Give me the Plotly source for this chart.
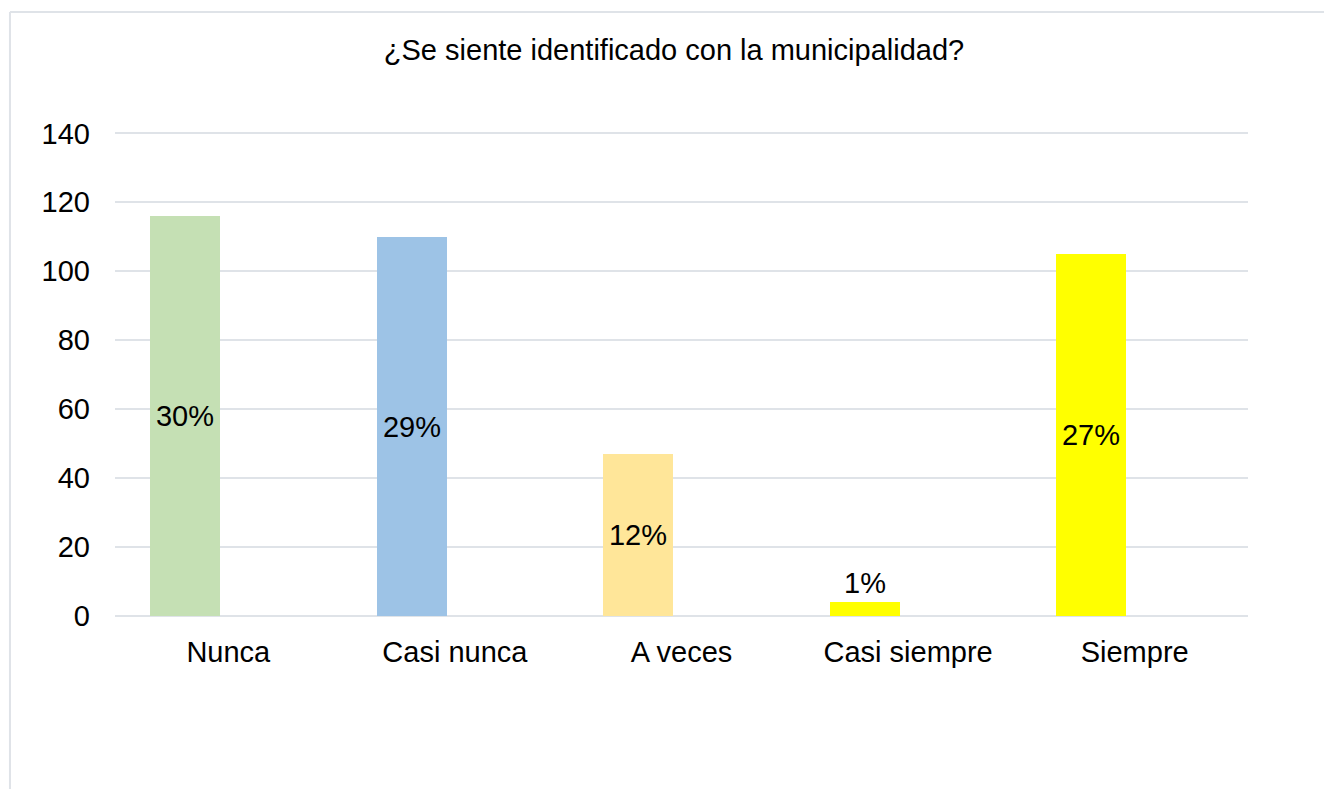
import plotly.graph_objects as go

# data
categorias = ['Nunca', 'Casi nunca', 'A veces', 'Casi siempre', 'Siempre']
frecuencias = [116, 110, 47, 4, 105]
porcentajes = ['30%', '29%', '12%', '1%', '27%']
colores = ['#c5e0b4', '#9dc3e6', '#ffe699', '#ffff00', '#ffff00']
y_ticks = [0, 20, 40, 60, 80, 100, 120, 140]

FONT = 'Liberation Sans, Arial, sans-serif'
GRID = '#dfe3e8'
SIZE = 29

fig = go.Figure()

fig.add_trace(go.Bar(
    x=categorias, y=frecuencias,
    marker=dict(color=colores, line=dict(width=0)),
    width=0.309, offset=-0.3455,
    text=porcentajes,
    textposition=['inside', 'inside', 'inside', 'outside', 'inside'],
    insidetextanchor='middle',
    textfont=dict(family=FONT, size=SIZE, color='black'),
    outsidetextfont=dict(family=FONT, size=SIZE, color='black'),
    textangle=0,
    cliponaxis=False,
    hoverinfo='x+y',
    showlegend=False
))

fig.update_layout(
    width=1332, height=789,
    margin=dict(l=107, r=92, t=124, b=181),
    paper_bgcolor='white', plot_bgcolor='white',
    font=dict(family=FONT, size=SIZE, color='black'),
    title=dict(text='¿Se siente identificado con la municipalidad?',
               x=0.5, xanchor='center', xref='container',
               y=1 - 42 / 789, yanchor='middle',
               font=dict(family=FONT, size=SIZE, color='black')),
    bargap=0,
    # chart frame (top and left edges visible in the reference)
    shapes=[
        dict(type='line', xref='paper', yref='paper',
             x0=-0.0927, x1=-0.0927, y0=-0.5, y1=1.248,
             line=dict(color=GRID, width=2)),
        dict(type='line', xref='paper', yref='paper',
             x0=-0.0927, x1=1.2, y0=1.248, y1=1.248,
             line=dict(color=GRID, width=2)),
    ],
)

fig.update_xaxes(
    showgrid=False, showline=False, zeroline=False,
    ticks='', ticklabelstandoff=16,
    tickfont=dict(family=FONT, size=SIZE, color='black'),
    fixedrange=True,
)
fig.update_yaxes(
    range=[0, 140.4], tickvals=y_ticks,
    showgrid=True, gridcolor=GRID, gridwidth=2,
    zeroline=True, zerolinecolor=GRID, zerolinewidth=2,
    showline=False, ticks='', ticklabelstandoff=24,
    tickfont=dict(family=FONT, size=SIZE, color='black'),
    fixedrange=True,
)

fig.write_html('out.html')
